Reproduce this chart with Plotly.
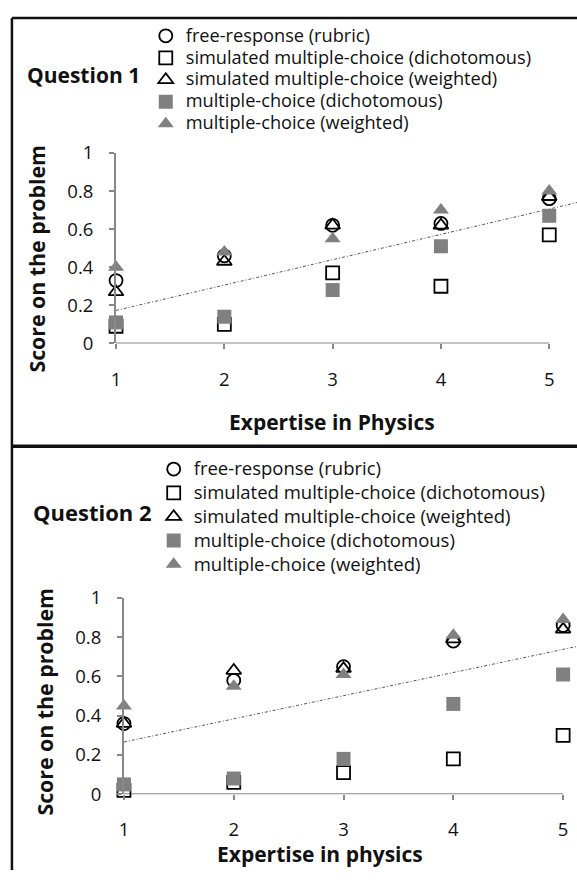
import plotly.graph_objects as go

# ---------------- data ----------------
expertise = [1, 2, 3, 4, 5]
series_names = [
    "free-response (rubric)",
    "simulated multiple-choice (dichotomous)",
    "simulated multiple-choice (weighted)",
    "multiple-choice (dichotomous)",
    "multiple-choice (weighted)",
]

q1_free_response = [0.33, 0.46, 0.62, 0.63, 0.76]
q1_sim_mc_dich = [0.09, 0.10, 0.37, 0.30, 0.57]
q1_sim_mc_weight = [0.27, 0.43, 0.62, 0.62, 0.77]
q1_mc_dich = [0.11, 0.14, 0.28, 0.51, 0.67]
q1_mc_weight = [0.40, 0.48, 0.55, 0.70, 0.80]
q1_trend_x = [1, 5.5]
q1_trend_y = [0.173, 0.772]

q2_free_response = [0.36, 0.58, 0.65, 0.78, 0.86]
q2_sim_mc_dich = [0.02, 0.06, 0.11, 0.18, 0.30]
q2_sim_mc_weight = [0.36, 0.63, 0.64, 0.79, 0.84]
q2_mc_dich = [0.05, 0.08, 0.18, 0.46, 0.61]
q2_mc_weight = [0.45, 0.55, 0.61, 0.81, 0.89]
q2_trend_x = [1, 5.5]
q2_trend_y = [0.266, 0.797]

x_ticks = [1, 2, 3, 4, 5]
y_ticks = [0, 0.2, 0.4, 0.6, 0.8, 1]
y_tick_text = ["0", "0.2", "0.4", "0.6", "0.8", "1"]

# ---------------- style ----------------
W, H = 577, 881
FONT = "Open Sans"
GREY = "#808080"
AXIS = "#888888"
styles = [
    dict(symbol="circle-open", size=13, color="black", line=dict(color="black", width=1.8)),
    dict(symbol="square-open", size=13, color="black", line=dict(color="black", width=1.8)),
    dict(symbol="triangle-up-open", size=13, color="black", line=dict(color="black", width=1.8)),
    dict(symbol="square", size=14, color=GREY, line=dict(width=0)),
    dict(symbol="triangle-up", size=14, color=GREY, line=dict(width=0)),
]


def px(x):
    return x / W


def py(y):
    return 1 - y / H


def legend_label(name, size):
    return '<span style="font-size:%spx">%s</span>' % (size, name)


fig = go.Figure()

panels = [
    dict(series=[q1_free_response, q1_sim_mc_dich, q1_sim_mc_weight, q1_mc_dich, q1_mc_weight],
         trend=(q1_trend_x, q1_trend_y), xa="x", ya="y", legend="legend", lsize=18.2),
    dict(series=[q2_free_response, q2_sim_mc_dich, q2_sim_mc_weight, q2_mc_dich, q2_mc_weight],
         trend=(q2_trend_x, q2_trend_y), xa="x2", ya="y2", legend="legend2", lsize=18.5),
]

for p in panels:
    fig.add_trace(go.Scatter(
        x=p["trend"][0], y=p["trend"][1], mode="lines",
        line=dict(color="#555555", width=1, dash="3px,2px,1px,2px"),
        showlegend=False, hoverinfo="skip", xaxis=p["xa"], yaxis=p["ya"]))
    for name, vals, st in zip(series_names, p["series"], styles):
        fig.add_trace(go.Scatter(
            x=expertise, y=vals, mode="markers", name=legend_label(name, p["lsize"]),
            marker=dict(size=st["size"], symbol=st["symbol"], color=st["color"], line=st["line"]),
            cliponaxis=False, xaxis=p["xa"], yaxis=p["ya"], legend=p["legend"]))

common_x = dict(showline=False, showgrid=False, zeroline=False, ticks="outside", ticklen=5,
                tickwidth=1.5, tickcolor=AXIS, tickvals=x_ticks, ticklabelstandoff=14,
                tickfont=dict(family=FONT, size=18.5, color="#111111"), fixedrange=True)
common_y = dict(showline=True, linewidth=2, linecolor=AXIS, showgrid=False, zeroline=False,
                ticks="outside", ticklen=5, tickwidth=1.5, tickcolor=AXIS, tickvals=y_ticks,
                ticktext=y_tick_text, range=[0, 1], ticklabelstandoff=12,
                tickfont=dict(family=FONT, size=18.5, color="#111111"), fixedrange=True)

fig.update_layout(
    width=W, height=H, autosize=False,
    margin=dict(l=0, r=0, t=0, b=0),
    paper_bgcolor="white", plot_bgcolor="rgba(0,0,0,0)",
    font=dict(family=FONT, color="#111111"),
    xaxis=dict(common_x, domain=[px(112), 1], range=[1, 1 + (W - 112) / 109.25]),
    yaxis=dict(common_y, domain=[py(339), py(143)]),
    xaxis2=dict(common_x, domain=[px(120), 1], range=[1, 1 + (W - 120) / 110.75], anchor="y2"),
    yaxis2=dict(common_y, domain=[py(803), py(601)], anchor="x2"),
    legend=dict(x=px(142), y=py(6), xanchor="left", yanchor="top", bgcolor="rgba(0,0,0,0)",
                font=dict(family=FONT, size=14.6, color="#111111"), tracegroupgap=0),
    legend2=dict(x=px(150), y=py(451), xanchor="left", yanchor="top", bgcolor="rgba(0,0,0,0)",
                 font=dict(family=FONT, size=16, color="#111111"), tracegroupgap=0),
    showlegend=True,
)

# axis baselines running from first to last tick
for xa, ya in (("x", "y"), ("x2", "y2")):
    fig.add_shape(type="line", xref=xa, yref=ya, x0=x_ticks[0], x1=x_ticks[-1],
                  y0=y_ticks[0], y1=y_ticks[0], line=dict(color=AXIS, width=2), layer="below")

# panel frames
frame = dict(color="#111111", width=2.5)
fig.add_shape(type="line", xref="paper", yref="paper", x0=px(7), x1=1, y0=py(4), y1=py(4), line=frame)
fig.add_shape(type="line", xref="paper", yref="paper", x0=px(7), x1=px(7), y0=py(4), y1=0, line=frame)
fig.add_shape(type="line", xref="paper", yref="paper", x0=px(7), x1=1, y0=py(445), y1=py(445),
              line=dict(color="#111111", width=3.5))

ann = []
def text(t, x, y, size, xanchor="center", angle=0):
    ann.append(dict(text=t, x=px(x), y=py(y), xref="paper", yref="paper", showarrow=False,
                    xanchor=xanchor, yanchor="middle", textangle=angle,
                    font=dict(family=FONT, size=size, color="#111111")))

text("<b>Question 1</b>", 20, 63, 21, xanchor="left")
text("<b>Question 2</b>", 26, 513, 22, xanchor="left")
text("<b>Expertise in Physics</b>", 330, 420, 21)
text("<b>Expertise in physics</b>", 318, 865, 21)
text("<b>Score on the problem</b>", 32, 252, 21.3, angle=-90)
text("<b>Score on the problem</b>", 40, 708, 21.3, angle=-90)
fig.update_layout(annotations=ann)

fig.write_html("out.html", config={"displayModeBar": False},
               post_script="document.body.style.margin='0';document.body.style.overflow='hidden';")
